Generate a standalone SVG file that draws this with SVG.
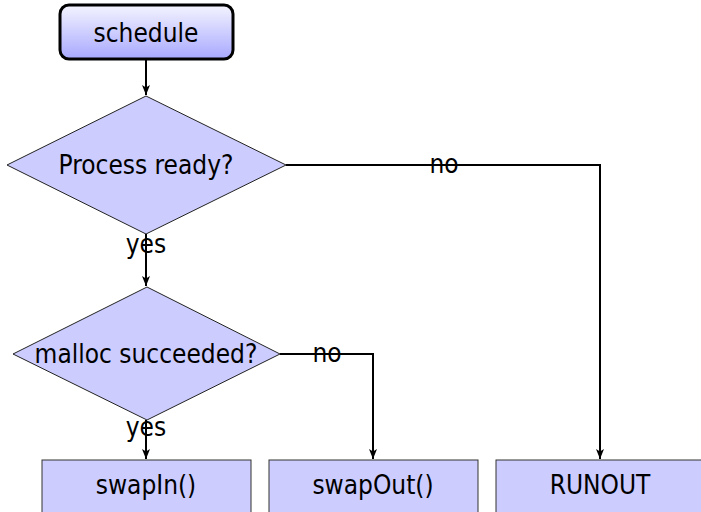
<svg xmlns="http://www.w3.org/2000/svg" width="701" height="512" viewBox="0 0 701 512">
<style>
text{font-family:"DejaVu Sans Condensed","DejaVu Sans","Liberation Sans",sans-serif;font-stretch:condensed;font-size:26px;fill:#000;text-anchor:middle}
.box{fill:#ccccff;stroke:#333;stroke-width:1}
.dia{fill:#ccccff;stroke:#222;stroke-width:1}
.conn{fill:none;stroke:#000;stroke-width:2}
</style>
<defs>
<linearGradient id="g" x1="0" y1="0" x2="0" y2="1">
<stop offset="0" stop-color="#f4f4ff"/>
<stop offset="1" stop-color="#a8a8ff"/>
</linearGradient>
<marker id="arr" viewBox="0 0 10 8" refX="10" refY="4" markerWidth="11" markerHeight="8" markerUnits="userSpaceOnUse" orient="auto">
<path d="M0,0 L10,4 L0,8 L2.5,4 Z" fill="#000"/>
</marker>
</defs>
<g id="schedule">
<rect x="60" y="5" width="173" height="54" rx="9" fill="url(#g)" stroke="#000" stroke-width="3"/>
<text x="146" y="42">schedule</text>
</g>
<g id="process-ready">
<polygon class="dia" points="146,96 286,165 146,234 7,165"/>
<text x="146" y="174">Process ready?</text>
</g>
<g id="malloc">
<polygon class="dia" points="147,287 280,354 147,420 13,354"/>
<text x="146" y="363">malloc succeeded?</text>
</g>
<g id="swapIn">
<rect class="box" x="42" y="460" width="209" height="60"/>
<text x="146" y="494">swapIn()</text>
</g>
<g id="swapOut">
<rect class="box" x="269" y="460" width="209" height="60"/>
<text x="373" y="494">swapOut()</text>
</g>
<g id="runout">
<rect class="box" x="496" y="460" width="209" height="60"/>
<text x="600" y="494">RUNOUT</text>
</g>
<g id="connectors">
<path class="conn" d="M146,59 V95" marker-end="url(#arr)"/>
<path class="conn" d="M286,165 H600 V459" marker-end="url(#arr)"/>
<path class="conn" d="M146,234 V286" marker-end="url(#arr)"/>
<path class="conn" d="M280,354 H373 V459" marker-end="url(#arr)"/>
<path class="conn" d="M146,420 V459" marker-end="url(#arr)"/>
<text x="444" y="173">no</text>
<text x="146" y="253">yes</text>
<text x="327" y="362">no</text>
<text x="146" y="436">yes</text>
</g>
</svg>
